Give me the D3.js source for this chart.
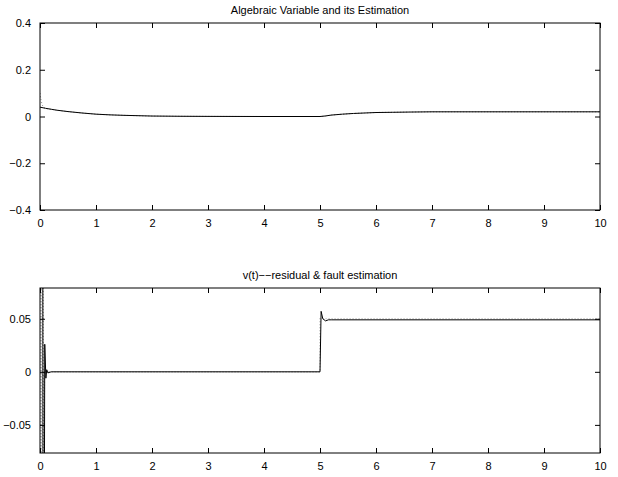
<!DOCTYPE html>
<html><head><meta charset="utf-8">
<script src="https://cdn.jsdelivr.net/npm/d3@7"></script>
<style>
body{margin:0;background:#fff;}
svg{display:block;}
text{font-family:"Liberation Sans",Arial,Helvetica,sans-serif;font-size:11px;fill:#000;}
</style></head>
<body><svg id="c" width="618" height="477"></svg>
<script>
// ---- Data ----
const title1 = "Algebraic Variable and its Estimation";
const title2 = "v(t)\u2212\u2212residual & fault estimation";
const xTicks = [0,1,2,3,4,5,6,7,8,9,10];
const yTicks1 = [-0.4,-0.2,0,0.2,0.4];
const yTickLabels1 = ["\u22120.4","\u22120.2","0","0.2","0.4"];
const yTicks2 = [-0.05,0,0.05];
const yTickLabels2 = ["\u22120.05","0","0.05"];

// top: algebraic variable (solid) and its estimation (dotted gray)
const tAlg = [0,0.1,0.2,0.3,0.5,0.75,1,1.25,1.5,2,2.5,3,4,5,5.2,5.4,5.6,5.8,6,6.3,6.6,7,8,9,10];
const vAlg = [0.04,0.035,0.031,0.027,0.021,0.015,0.010,0.007,0.005,0.002,0.001,0.0005,0,0,0.006,0.010,0.013,0.015,0.017,0.018,0.019,0.02,0.02,0.02,0.02];
const tAlgEst = [0,0.02,0.05,0.1,0.2,0.3,0.5,0.75,1,1.25,1.5,2,2.5,3,4,5,5.2,5.4,5.6,5.8,6,6.3,6.6,7,8,9,10];
const vAlgEst = [0.1,0.07,0.045,0.035,0.031,0.027,0.021,0.015,0.010,0.007,0.005,0.002,0.001,0.0005,0,0,0.006,0.010,0.013,0.015,0.017,0.018,0.019,0.02,0.02,0.02,0.02];

// bottom: residual (solid) and fault estimation (dotted gray)
const tRes = [0,0.045,0.06,0.085,0.105,0.12,0.14,0.2,5,5.02,5.05,5.1,5.15,5.2,10];
const vRes = [0.5,0.5,-0.5,0.026,-0.006,0.002,-0.001,0,0,0.057,0.05,0.048,0.049,0.049,0.049];
const tFault = [0,0.02,0.035,0.05,0.065,0.08,5,5.001,10];
const vFault = [-0.5,0.5,-0.5,0.5,-0.5,0,0,0.05,0.05];

// ---- Layout ----
const svg = d3.select("#c");
const L = 40, R = 600;
const panels = [
  {top:23, bottom:210, ydom:[-0.4,0.4], yt:yTicks1, yl:yTickLabels1, title:title1,
   series:[{t:tAlgEst,v:vAlgEst,color:"#888",w:1,dash:"1,2",curve:d3.curveMonotoneX},{t:tAlg,v:vAlg,color:"#000",w:1,dash:null,curve:d3.curveMonotoneX}]},
  {top:288, bottom:453, ydom:[-0.0765,0.079], yt:yTicks2, yl:yTickLabels2, title:title2,
   series:[{t:tFault,v:vFault,color:"#999",w:1.2,dash:"1,2",curve:d3.curveLinear},{t:tRes,v:vRes,color:"#000",w:1,dash:null,curve:d3.curveLinear}]}
];

const x = d3.scaleLinear().domain([0,10]).range([L,R]);

panels.forEach((p,i)=>{
  const y = d3.scaleLinear().domain(p.ydom).range([p.bottom,p.top]);
  const g = svg.append("g");
  const cid = "clip"+i;
  svg.append("clipPath").attr("id",cid).append("rect")
    .attr("x",L).attr("y",p.top).attr("width",R-L).attr("height",p.bottom-p.top);
  p.series.forEach(s=>{
    const line = d3.line().x((d)=>x(d[0])).y((d)=>y(d[1])).curve(s.curve);
    const pts = s.t.map((t,k)=>[t,s.v[k]]);
    g.append("path").datum(pts).attr("d",line)
      .attr("fill","none").attr("stroke",s.color).attr("stroke-width",s.w)
      .attr("stroke-dasharray",s.dash).attr("clip-path",`url(#${cid})`);
  });
  // axes (MATLAB style: inward ticks, box)
  const tl = 5;
  g.append("g").attr("transform",`translate(0,${p.bottom})`)
    .call(d3.axisBottom(x).tickValues(xTicks).tickSize(-tl).tickPadding(9).tickFormat(d3.format("d")))
    .call(a=>a.select(".domain").remove());
  g.append("g").attr("transform",`translate(0,${p.top})`)
    .call(d3.axisTop(x).tickValues(xTicks).tickSize(-tl).tickFormat(""))
    .call(a=>a.select(".domain").remove());
  g.append("g").attr("transform",`translate(${L},0)`)
    .call(d3.axisLeft(y).tickValues(p.yt).tickSize(-tl).tickPadding(9).tickFormat((d,k)=>p.yl[k]))
    .call(a=>a.select(".domain").remove());
  g.append("g").attr("transform",`translate(${R},0)`)
    .call(d3.axisRight(y).tickValues(p.yt).tickSize(-tl).tickFormat(""))
    .call(a=>a.select(".domain").remove());
  g.selectAll(".tick line").attr("stroke","#000");
  g.selectAll(".tick text").style("font-family","'Liberation Sans',Arial,sans-serif").style("font-size","11px").attr("fill","#000");
  g.append("rect").attr("x",L).attr("y",p.top).attr("width",R-L).attr("height",p.bottom-p.top)
    .attr("fill","none").attr("stroke","#000").attr("stroke-width",1);
  g.append("text").attr("x",(L+R)/2).attr("y",p.top-9).attr("text-anchor","middle").text(p.title);
});
</script></body></html>
